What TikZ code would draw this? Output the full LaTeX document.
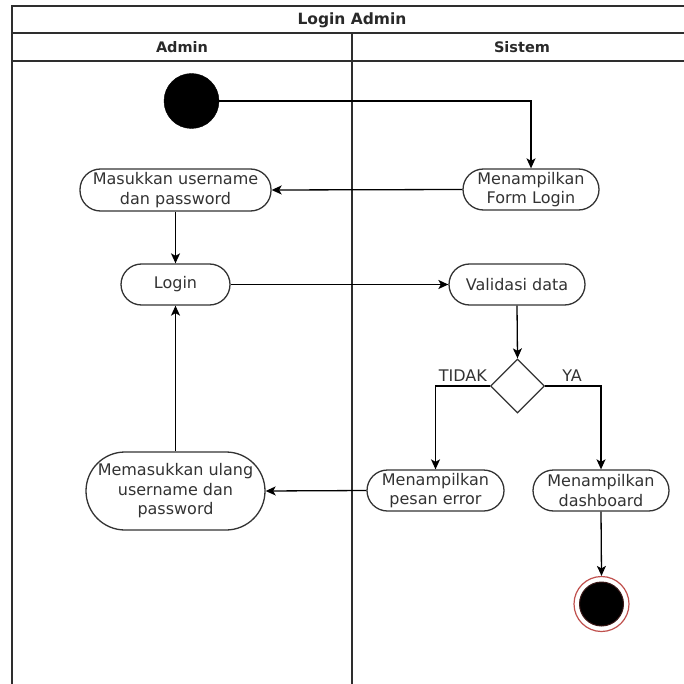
\documentclass[tikz,border=0pt]{standalone}
\usepackage{fontspec}
\setmainfont{DejaVu Sans}
\usetikzlibrary{arrows.meta,shapes.geometric}
\definecolor{ink}{HTML}{333333}
\definecolor{endred}{HTML}{C0504D}
\tikzset{
  frameline/.style={draw=ink!90!black,line width=1.8pt},
  act/.style={draw=ink,line width=1.3pt,fill=white,text=ink,align=center,inner sep=0pt,
    font=\fontsize{16}{19.5}\selectfont},
  arr/.style={draw=black,line width=1.3pt,-{Stealth[length=10pt,width=9pt,inset=2.5pt]}},
  lbl/.style={text=ink,inner sep=0pt,font=\fontsize{16}{19.5}\selectfont},
  hdr/.style={text=ink!80!black,inner sep=0pt,font=\bfseries\fontsize{14.5}{17}\selectfont}
}
\begin{document}
\begin{tikzpicture}[x=1pt,y=-1pt]
\useasboundingbox (0,0) rectangle (684,684);
\clip (0,0) rectangle (684,684);
% swimlane frame
\draw[frameline] (12,684) -- (12,6) -- (700,6);
\draw[frameline] (12,33) -- (700,33);
\draw[frameline] (12,61) -- (700,61);
\draw[frameline] (352,33) -- (352,684);
\node[hdr,font=\bfseries\fontsize{15.5}{18}\selectfont] (title) at (352,20) {Login Admin};
\node[hdr] (hadmin) at (182,47) {Admin};
\node[hdr] (hsistem) at (522,47) {Sistem};
% nodes
\node[circle,fill=black,draw=black,minimum size=55pt,inner sep=0pt] (start) at (191.5,101) {};
\node[act,rounded corners=20.5pt,minimum width=191pt,minimum height=42pt] (masuk) at (175.5,190) {Masukkan username\\dan password};
\node[act,rounded corners=20.5pt,minimum width=136pt,minimum height=41pt] (form) at (531,189.5) {Menampilkan\\Form Login};
\node[act,rounded corners=20.5pt,minimum width=109pt,minimum height=41pt] (login) at (175.5,284.5) {Login};
\node[act,rounded corners=20.5pt,minimum width=136pt,minimum height=41pt] (valid) at (517,284.5) {Validasi data};
\node[diamond,draw=ink,line width=1.3pt,fill=white,minimum width=54pt,minimum height=54pt,inner sep=0pt] (dec) at (517.5,386) {};
\node[act,rounded corners=20.5pt,minimum width=137pt,minimum height=41pt] (err) at (435.5,490.5) {Menampilkan\\pesan error};
\node[act,rounded corners=20.5pt,minimum width=136pt,minimum height=41pt] (dash) at (601,490.5) {Menampilkan\\dashboard};
\node[act,rounded corners=39pt,minimum width=179pt,minimum height=78pt] (ulang) at (175.5,491) {Memasukkan ulang\\username dan\\password};
\node[circle,draw=endred,line width=1.2pt,fill=white,minimum size=55pt,inner sep=0pt] (end) at (601.5,604) {};
\node[circle,fill=black,draw=black!70!endred,line width=1pt,minimum size=44pt,inner sep=0pt] (endin) at (end) {};
% labels
\node[lbl,anchor=east] (tidak) at (487,376) {TIDAK};
\node[lbl] (ya) at (572,376) {YA};
% connectors
\draw[arr] (start.east) -- (start.east -| form.north) -- (form.north);
\draw[arr] (form.west) -- (masuk.east);
\draw[arr] (masuk.south) -- (login.north);
\draw[arr] (login.east) -- (valid.west);
\draw[arr] (valid.south) -- (dec.north);
\draw[arr] (dec.west) -| (err.north);
\draw[arr] (dec.east) -| (dash.north);
\draw[arr] (err.west) -- (ulang.east);
\draw[arr] (ulang.north) -- (login.south);
\draw[arr] (dash.south) -- (end.north);
\end{tikzpicture}
\end{document}
